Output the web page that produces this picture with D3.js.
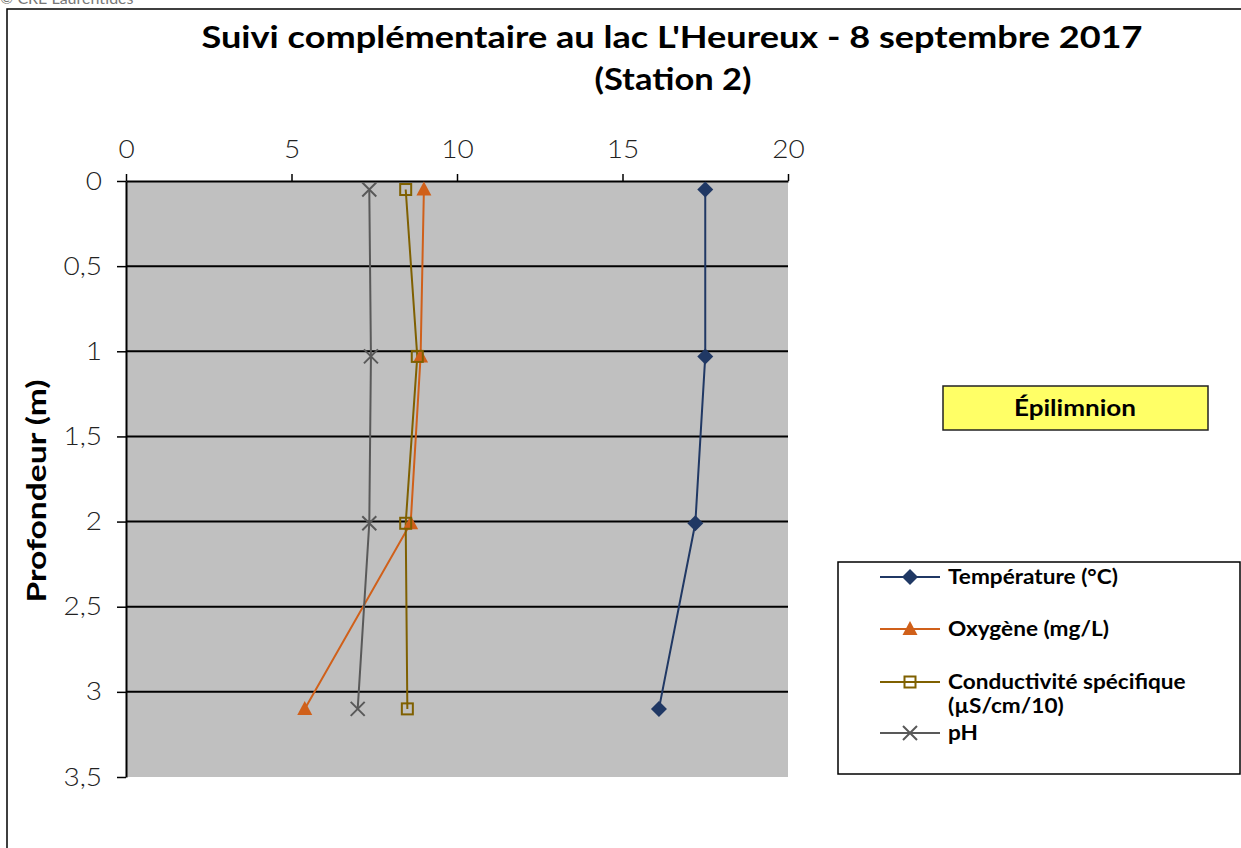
<!DOCTYPE html>
<html><head><meta charset="utf-8">
<script src="https://cdn.jsdelivr.net/npm/d3@7"></script>
<style>body{margin:0;background:#fff;}svg{display:block;}</style>
</head><body>
<svg id="c" width="1241" height="848"></svg>
<script>
const depths = [0.05, 1.03, 2.01, 3.1];
const temperature = [17.5, 17.5, 17.2, 16.1];
const oxygene = [9.0, 8.9, 8.6, 5.4];
const conductivite = [8.45, 8.8, 8.45, 8.5];
const ph = [7.35, 7.4, 7.35, 7.0];
const xTicks = [0, 5, 10, 15, 20];
const yTicks = [0, 0.5, 1, 1.5, 2, 2.5, 3, 3.5];
const seriesNames = ["Température (°C)", "Oxygène (mg/L)", "Conductivité spécifique\n(µS/cm/10)", "pH"];
const seriesColors = ["#203864", "#d0601a", "#7f6000", "#595959"];
const seriesMarkers = ["diamond", "triangle", "square", "cross"];
const seriesValues = [temperature, oxygene, conductivite, ph];

const svg = d3.select("#c");
const font = "Lato, 'DejaVu Sans', sans-serif";
const L = 126, R = 788, T = 181, B = 777;
const x = d3.scaleLinear().domain([0, 20]).range([L, R]);
const y = d3.scaleLinear().domain([0, 3.5]).range([T, B]);

function stretch(sel, k) {
  sel.each(function () {
    const w = this.getComputedTextLength();
    d3.select(this).attr("textLength", w * k).attr("lengthAdjust", "spacingAndGlyphs");
  });
}

svg.append("text").attr("x", 0).attr("y", 4).attr("font-family", font).attr("font-size", 16)
  .attr("fill", "#777").text("© CRE Laurentides");
svg.append("rect").attr("x", 7).attr("y", 9).attr("width", 1260).attr("height", 860)
  .attr("fill", "#fff").attr("stroke", "#000").attr("stroke-width", 1.5);

svg.append("text").attr("x", 672).attr("y", 48).attr("text-anchor", "middle")
  .attr("font-family", font).attr("font-weight", "bold").attr("font-size", 31)
  .attr("textLength", 941).attr("lengthAdjust", "spacingAndGlyphs")
  .text("Suivi complémentaire au lac L'Heureux - 8 septembre 2017");
svg.append("text").attr("x", 673).attr("y", 90).attr("text-anchor", "middle")
  .attr("font-family", font).attr("font-weight", "bold").attr("font-size", 31)
  .attr("textLength", 157).attr("lengthAdjust", "spacingAndGlyphs")
  .text("(Station 2)");

svg.append("rect").attr("x", L).attr("y", T).attr("width", R - L).attr("height", B - T).attr("fill", "#c0c0c0");
svg.append("g").selectAll("line").data(yTicks.filter(d => d > 0 && d < 3.5)).join("line")
  .attr("x1", L).attr("x2", R).attr("y1", d => y(d)).attr("y2", d => y(d))
  .attr("stroke", "#000").attr("stroke-width", 2);

const xAxis = svg.append("g").attr("transform", `translate(0,${T})`)
  .call(d3.axisTop(x).tickValues(xTicks).tickSize(7).tickSizeOuter(0).tickFormat(d3.format("d")));
xAxis.select(".domain").attr("stroke-width", 2);
xAxis.selectAll("line").attr("stroke-width", 1.5);
xAxis.selectAll("text").attr("font-family", font).attr("font-weight", 300).attr("font-size", 25).attr("fill", "#222").attr("dy", "-0.35em").attr("y", -14);
stretch(xAxis.selectAll("text"), 1.12);

const yAxis = svg.append("g").attr("transform", `translate(${L},0)`)
  .call(d3.axisLeft(y).tickValues(yTicks).tickSize(9).tickSizeOuter(0).tickFormat(d => String(d).replace(".", ",")));
yAxis.select(".domain").attr("stroke-width", 2);
yAxis.selectAll("line").attr("stroke-width", 1.5);
yAxis.selectAll("text").attr("font-family", font).attr("font-weight", 300).attr("font-size", 25).attr("fill", "#222").attr("x", -24);
stretch(yAxis.selectAll("text"), 1.12);

svg.append("text").attr("transform", "translate(46,491) rotate(-90)").attr("text-anchor", "middle")
  .attr("font-family", font).attr("font-weight", "bold").attr("font-size", 26)
  .attr("textLength", 223).attr("lengthAdjust", "spacingAndGlyphs").text("Profondeur (m)");

function marker(g, type, color) {
  if (type === "diamond") g.append("path").attr("d", "M0,-8L8,0L0,8L-8,0Z").attr("fill", color);
  else if (type === "triangle") g.append("path").attr("d", "M0,-8L7.5,6L-7.5,6Z").attr("fill", color);
  else if (type === "square") g.append("rect").attr("x", -5.5).attr("y", -5.5).attr("width", 11).attr("height", 11)
    .attr("fill", "none").attr("stroke", color).attr("stroke-width", 2);
  else g.append("path").attr("d", "M-7,-7L7,7M-7,7L7,-7").attr("stroke", color).attr("stroke-width", 2);
}

const line = d3.line().x(d => x(d[0])).y(d => y(d[1]));
const order = [0, 1, 2, 3];
order.forEach(i => {
  const pts = seriesValues[i].map((v, j) => [v, depths[j]]);
  svg.append("path").attr("d", line(pts)).attr("fill", "none").attr("stroke", seriesColors[i]).attr("stroke-width", 2);
});
order.forEach(i => {
  seriesValues[i].forEach((v, j) => {
    const g = svg.append("g").attr("transform", `translate(${x(v)},${y(depths[j])})`);
    marker(g, seriesMarkers[i], seriesColors[i]);
  });
});

// Épilimnion box
svg.append("rect").attr("x", 943).attr("y", 386).attr("width", 265).attr("height", 44)
  .attr("fill", "#ffff66").attr("stroke", "#222").attr("stroke-width", 1.5);
svg.append("text").attr("x", 1075).attr("y", 416).attr("text-anchor", "middle")
  .attr("font-family", font).attr("font-weight", "bold").attr("font-size", 22)
  .attr("textLength", 122).attr("lengthAdjust", "spacingAndGlyphs").text("Épilimnion");

// Legend
svg.append("rect").attr("x", 838).attr("y", 562).attr("width", 402).attr("height", 212)
  .attr("fill", "#fff").attr("stroke", "#000").attr("stroke-width", 1.5);
const legY = [577, 629, 682, 733];
seriesNames.forEach((name, i) => {
  const g = svg.append("g").attr("transform", `translate(0,${legY[i]})`);
  g.append("line").attr("x1", 880).attr("x2", 940).attr("stroke", seriesColors[i]).attr("stroke-width", 2);
  const m = g.append("g").attr("transform", "translate(910,0)");
  marker(m, seriesMarkers[i], seriesColors[i]);
  name.split("\n").forEach((s, k) => {
    const t = g.append("text").attr("x", 948).attr("y", 7 + k * 24).attr("font-family", font)
      .attr("font-weight", "bold").attr("font-size", 20).text(s);
    stretch(t, 1.13);
  });
});
</script>
</body></html>
